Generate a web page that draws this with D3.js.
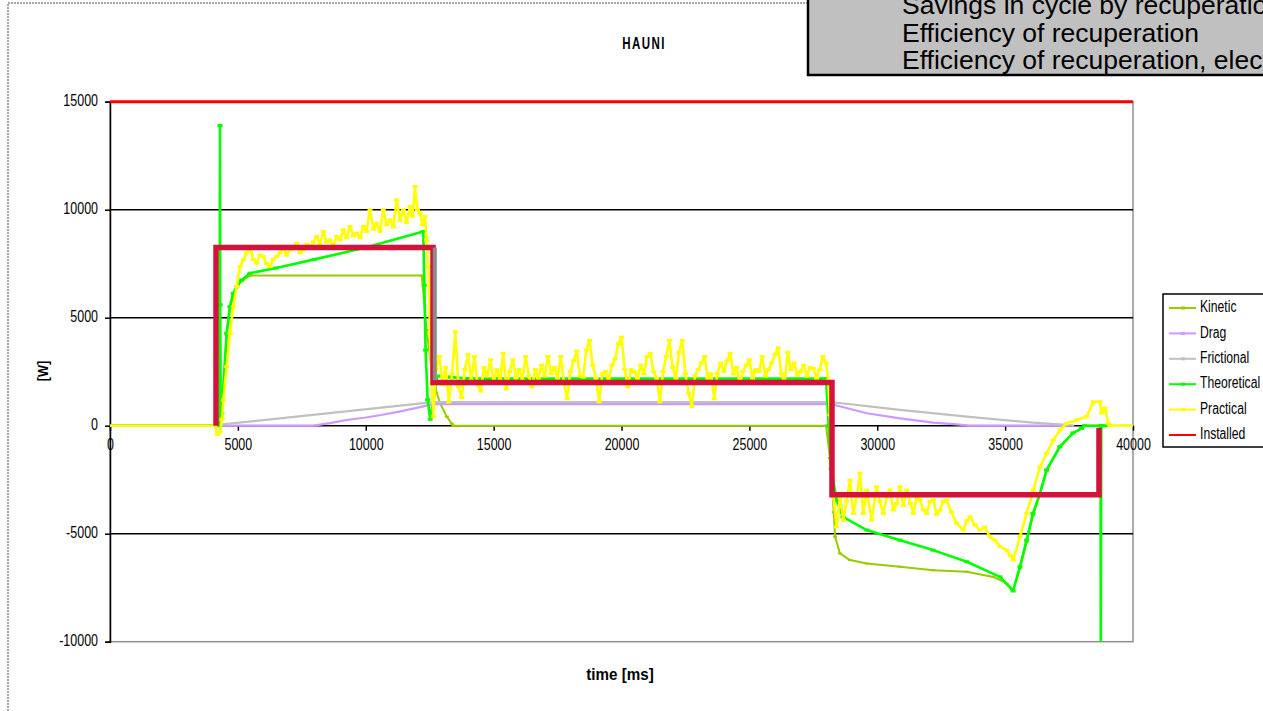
<!DOCTYPE html>
<html><head><meta charset="utf-8">
<script src="https://cdn.jsdelivr.net/npm/d3@7/dist/d3.min.js"></script>
<style>
body{margin:0;background:#fff;}
svg{display:block;}
</style></head>
<body>
<svg id="chart" width="1263" height="711"></svg>
<script>
// ---------------- DATA ----------------
const chartTitle = "HAUNI";
const xTicks = [0,5000,10000,15000,20000,25000,30000,35000,40000];
const yTicks = [-10000,-5000,0,5000,10000,15000];
const infoLines = ["Savings in cycle by recuperation","Efficiency of recuperation","Efficiency of recuperation, electrical"];
const seriesNames = ["Kinetic","Drag","Frictional","Theoretical","Practical","Installed"];
const seriesColors = ["#99cc00","#cc99ff","#c0c0c0","#00ff00","#ffff00","#ff0000"];

// [time ms, power W]
const kinetic = [[0,0],[4300,0],[4370,600],[4560,4200],[4690,5450],[4820,6050],[4950,6400],[5150,6700],[5470,6950],
 [12190,6950],[12380,4430],[12630,2110],[12900,1050],[13170,420],[13360,100],[13420,0],[28000,0],[28150,-1500],
 [28300,-4000],[28350,-5140],[28540,-5910],[28930,-6220],[29590,-6380],[30890,-6530],[32190,-6690],[33500,-6760],
 [34540,-7000],[35060,-7300],[35320,-7600],[35580,-6600],[35840,-5400],[36090,-4150],[36360,-3200],[36620,-2100],
 [37140,-1000],[37650,-350],[37990,-120],[38100,0],[40000,0]];

const drag = [[0,0],[4400,0],[7950,0],[8600,120],[9250,265],[10000,380],[10600,495],[11300,650],[11900,805],[12630,1000],
 [28200,1000],[28600,880],[29590,575],[30890,343],[32190,140],[33100,65],[33600,0],[37500,0]];

const frictional = [[0,0],[4300,0],[4400,60],[12630,1090],[28200,1090],[28600,1040],[30890,730],[33500,420],
 [36100,140],[37400,40],[37700,0]];

const theoretical = [[0,0],[4250,0],[4290,0],[4300,13900],[4310,5600],[4330,400],[4370,574],[4560,4280],[4690,5513],
 [4820,6130],[4950,6440],[5150,6750],[5470,7060],[6500,7300],[8000,7700],[10000,8250],[12250,8990],[12290,6500],[12340,3500],[12420,1200],[12520,300],
 [12800,2300],[13300,2250],[14000,2180],[28000,2180],[28100,0],[28200,-2000],[28413,-3450],[28660,-4216],
 [29590,-4830],[30890,-5300],[32180,-5760],[33500,-6300],[34800,-7000],[35310,-7650],[35580,-6530],[35840,-5300],
 [36090,-4060],[36360,-3140],[36620,-2050],[37140,-970],[37650,-340],[37990,-120],[38100,0],[38730,0],[38740,-10500],
 [38760,0],[38900,0]];

const practical = [[0,0],[4100,0],[4200,-400],[4300,-300],[4380,300],[4430,1190],[4561,2730],[4692,4280],[4822,5510],
 [4952,6440],[5083,7360],[5213,7680],[5344,7990],[5474,8290],[5600,7700],[5736,7524],[5860,7900],[5994,7830],
 [6120,7500],[6256,7366],[6380,7700],[6518,7830],[6650,8000],[6776,8293],[6900,7900],[7038,8140],[7170,8300],
 [7300,8450],[7430,8000],[7558,8140],[7690,8400],[7820,8293],[7950,8500],[8082,8756],[8210,8400],[8340,8988],
 [8470,8500],[8602,8603],[8730,8300],[8864,8756],[9000,8600],[9122,9067],[9250,8700],[9384,9220],[9520,8800],
 [9646,8914],[9780,8700],[9904,9220],[10030,9000],[10166,9990],[10300,9100],[10428,9377],[10560,9000],[10686,9990],
 [10820,9300],[10948,9530],[11080,9200],[11210,10457],[11340,9500],[11468,9990],[11600,9400],[11730,10146],
 [11830,9700],[11926,11073],[12020,10000],[12121,9840],[12220,9300],[12317,9683],[12383,8603],[12446,7366],
 [12512,4280],[12579,1964],[12641,417],
 [12750,2600],[12875,3200],[13000,1900],[13125,2700],[13250,1100],[13375,2400],[13500,4350],[13625,1800],[13750,1300],
 [13875,2600],[14000,3300],[14125,2100],[14250,3200],[14375,1900],[14500,1600],[14625,2700],[14750,2300],[14875,3050],
 [15000,2000],[15125,2600],[15250,2100],[15375,3350],[15500,1700],[15625,2500],[15750,3050],[15875,2200],[16000,2600],
 [16125,2100],[16250,3200],[16375,2300],[16500,1800],[16625,2600],[16750,2200],[16875,2800],[17000,2300],[17125,3200],
 [17250,2400],[17375,2700],[17500,2200],[17625,3200],[17750,2000],[17875,1250],[18000,2500],[18125,3000],[18250,3450],
 [18375,2300],[18500,2250],[18625,3500],[18750,3950],[18875,2800],[19000,2200],[19125,1100],[19250,2400],[19375,2500],
 [19500,2100],[19625,2800],[19750,3100],[19875,3800],[20000,4100],[20125,2600],[20250,1800],[20375,2600],[20500,2500],
 [20625,2200],[20750,2800],[20875,2400],[21000,3200],[21125,3350],[21250,2500],[21375,2200],[21500,1100],[21625,2500],
 [21750,3200],[21875,3950],[22000,2700],[22125,2200],[22250,3400],[22375,3950],[22500,2400],[22625,1500],[22750,900],
 [22875,2300],[23000,2600],[23125,2900],[23250,3200],[23375,2200],[23500,2400],[23625,1250],[23750,2400],[23875,2900],
 [24000,2500],[24125,3000],[24250,3350],[24375,2400],[24500,2700],[24625,1950],[24750,2500],[24875,2800],[25000,3050],
 [25125,2200],[25250,2600],[25375,2500],[25500,3200],[25625,2300],[25750,2600],[25875,2900],[26000,3300],[26125,3600],
 [26250,2400],[26375,1950],[26500,3400],[26625,2600],[26750,2900],[26875,2350],[27000,2500],[27125,2800],[27250,2300],
 [27375,2700],[27500,2650],[27625,2200],[27750,2600],[27875,3200],[28000,2900],[28087,2100],
 [28150,500],[28217,-2520],[28413,-4680],[28543,-3290],[28673,-4370],[28800,-3500],[28934,-2520],[29064,-4060],
 [29200,-3300],[29325,-2200],[29455,-4060],[29586,-2980],[29782,-4370],[29977,-2830],[30100,-3500],[30238,-4060],
 [30370,-3300],[30498,-2980],[30630,-3900],[30759,-3600],[30889,-2830],[31020,-3700],[31150,-2980],[31300,-3600],
 [31410,-4060],[31540,-3300],[31671,-3440],[31800,-3900],[31932,-4060],[32060,-3500],[32192,-3440],[32320,-4100],
 [32453,-3910],[32580,-3500],[32714,-3440],[32900,-4000],[33105,-4520],[33365,-4830],[33500,-4400],[33626,-4220],
 [33820,-4600],[34017,-4830],[34200,-4700],[34408,-5140],[34600,-5300],[34799,-5600],[35060,-5760],[35200,-6000],
 [35320,-6220],[35581,-5140],[35842,-4060],[36102,-2980],[36363,-1900],[36624,-1280],[36884,-660],[37145,-200],
 [37406,110],[37797,264],[38188,417],[38449,1110],[38709,1110],[38775,590],[38905,820],[39034,110],[39100,0],[40000,0]];

const installed = [[0,15000],[40000,15000]];
const installedStep = [[4145,0],[4145,8250],[12630,8250],[12630,2000],[28230,2000],[28230,-3200],[38670,-3200],[38670,-100]];
const transitionBar = [[12700,8250],[12700,2100]];

// ---------------- CHART ----------------
const svg = d3.select("#chart");
const FONT = '"Liberation Sans",Arial,sans-serif';
const x = d3.scaleLinear().domain([0,40000]).range([110,1133]);
const y = d3.scaleLinear().domain([-10000,15000]).range([641.7,101.7]);

function narrow(sel, tx, ty, sx){
  sel.attr("x",0).attr("y",0).attr("transform",`translate(${tx},${ty}) scale(${sx},1)`);
}

// outer chart border (dotted)
svg.append("path").attr("d",`M8,711 L8,3 L808,3`).attr("fill","none")
  .attr("stroke","#a8a8a8").attr("stroke-width",2).attr("stroke-dasharray","2,1");

// title
svg.append("text").attr("text-anchor","middle").attr("dominant-baseline","middle")
  .attr("font-family",FONT).attr("font-size",16).attr("letter-spacing",2).attr("font-weight","bold")
  .text(chartTitle).call(narrow,644,45,0.72);

// plot border
svg.append("rect").attr("x",x(0)).attr("y",y(15000)).attr("width",x(40000)-x(0)).attr("height",y(-10000)-y(15000))
  .attr("fill","none").attr("stroke","#909090").attr("stroke-width",1.5);

// gridlines
svg.append("g").selectAll("line").data(yTicks.filter(v=>v!==0 && v!==-10000)).join("line")
  .attr("x1",x(0)).attr("x2",x(40000)).attr("y1",d=>y(d)).attr("y2",d=>y(d))
  .attr("stroke","#000").attr("stroke-width",1.5);

// axes
const yAxis = svg.append("g").attr("transform",`translate(${x(0)},0)`)
  .call(d3.axisLeft(y).tickValues(yTicks).tickSize(5).tickFormat(d=>String(d)));
const xAxis = svg.append("g").attr("transform",`translate(0,${y(0)})`)
  .call(d3.axisBottom(x).tickValues(xTicks).tickSize(5).tickFormat(d=>String(d)));
[yAxis,xAxis].forEach(a=>{
  a.select(".domain").attr("stroke","#000").attr("stroke-width",1.5);
  a.selectAll(".tick line").attr("stroke","#000").attr("stroke-width",1.5);
  a.selectAll(".tick text").attr("font-size",16).attr("fill","#000").attr("font-family",FONT);
});
yAxis.selectAll(".tick text").attr("dy",null).attr("dominant-baseline","middle").each(function(){ d3.select(this).call(narrow,-12,0,0.78); });
xAxis.selectAll(".tick text").attr("dy",null).attr("dominant-baseline","hanging").each(function(){ d3.select(this).call(narrow,0,13,0.78); });
xAxis.select(".domain").attr("d",`M${x(0)},0H${x(40000)}`);

// axis titles
svg.append("text").attr("transform","translate(44,371) rotate(-90) scale(0.85,1)").attr("font-family",FONT)
  .attr("text-anchor","middle").attr("dominant-baseline","middle").attr("font-size",15).attr("font-weight","bold").text("[W]");
svg.append("text").attr("font-family",FONT)
  .attr("text-anchor","middle").attr("dominant-baseline","middle").attr("font-size",16).attr("font-weight","bold")
  .text("time [ms]").call(narrow,620,676,0.95);

// clip
svg.append("clipPath").attr("id","clip").append("rect").attr("x",0).attr("y",90).attr("width",1200).attr("height",y(-10000)-90);

const line = d3.line().x(d=>x(d[0])).y(d=>y(d[1]));
const plot = svg.append("g").attr("clip-path","url(#clip)");
function drawSeries(data,color,width,mw,mh){
  plot.append("path").datum(data).attr("d",line).attr("fill","none").attr("stroke",color)
    .attr("stroke-width",width).attr("stroke-linejoin","round");
  if(mw){
    plot.append("g").selectAll("rect").data(data.filter(d=>d[0]>3000 && d[0]<39500)).join("rect")
      .attr("x",d=>x(d[0])-mw/2).attr("y",d=>y(d[1])-mh/2).attr("width",mw).attr("height",mh).attr("fill",color);
  }
}
drawSeries(kinetic,seriesColors[0],2,4,2);
drawSeries(drag,seriesColors[1],2.2,0,0);
drawSeries(frictional,seriesColors[2],2.2,0,0);
drawSeries(theoretical,seriesColors[3],2.6,5,3);
drawSeries(practical,seriesColors[4],2.6,5,3);
drawSeries(installed,seriesColors[5],3,0,0);
plot.append("path").datum(installedStep).attr("d",line).attr("fill","none").attr("stroke","#d4123c")
  .attr("stroke-width",5.5).attr("stroke-linejoin","miter");
plot.append("path").datum(transitionBar).attr("d",line).attr("fill","none").attr("stroke","#8a8a8a").attr("stroke-width",4);

// legend
const lg = svg.append("g").attr("transform","translate(1163,294)");
lg.append("rect").attr("x",0).attr("y",0).attr("width",120).attr("height",153).attr("fill","#fff")
  .attr("stroke","#000").attr("stroke-width",1.5);
seriesNames.forEach((n,i)=>{
  const yy = 14 + i*25.4;
  lg.append("line").attr("x1",6).attr("x2",33).attr("y1",yy).attr("y2",yy).attr("stroke",seriesColors[i]).attr("stroke-width",2);
  if(i<5) lg.append("rect").attr("x",18).attr("y",yy-1.5).attr("width",4).attr("height",3).attr("fill",seriesColors[i]);
  lg.append("text").attr("dominant-baseline","middle").attr("font-family",FONT)
    .attr("font-size",16).attr("fill","#000").text(n).call(narrow,37,yy,0.76);
});

// info box (top right)
const ib = svg.append("g");
ib.append("rect").attr("x",808).attr("y",-4).attr("width",470).attr("height",79).attr("fill","#c0c0c0")
  .attr("stroke","#000").attr("stroke-width",2.5);
infoLines.forEach((t,i)=>{
  ib.append("text").attr("x",902).attr("y",14+i*27.5).attr("font-size",26.5)
    .attr("font-family",FONT).attr("fill","#000").text(t);
});
</script>
</body></html>
